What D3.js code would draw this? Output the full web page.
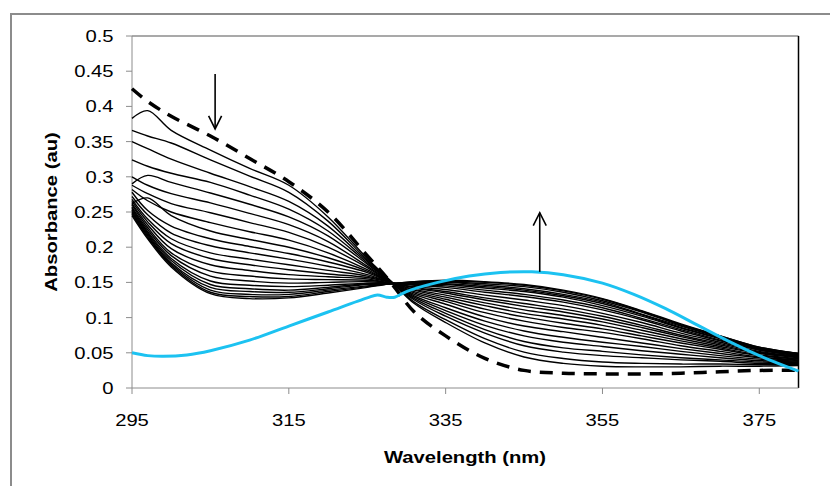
<!DOCTYPE html>
<html>
<head>
<meta charset="utf-8">
<script src="https://cdn.jsdelivr.net/npm/d3@7"></script>
<style>
  body { margin: 0; background: #fff; }
  text { font-family: "Liberation Sans", Arial, sans-serif; fill: #000; }
</style>
</head>
<body>
<svg id="chart"></svg>
<script>
var wavelengths = [295, 297, 300, 305, 310, 315, 320, 325, 328, 331, 335, 340, 345, 350, 355, 360, 365, 370, 375, 380];

// first spectrum (dashed)
var initialSpectrum = [0.425, 0.407, 0.386, 0.358, 0.326, 0.293, 0.250, 0.188, 0.150, 0.108, 0.074, 0.042, 0.025, 0.021, 0.020, 0.020, 0.021, 0.023, 0.025, 0.025];

// intermediate spectra: one row per wavelength, one column per spectrum
var titration = [
  [0.383, 0.366, 0.350, 0.324, 0.290, 0.300, 0.288, 0.282, 0.262, 0.278, 0.272, 0.268, 0.265, 0.262, 0.260, 0.257, 0.255, 0.253, 0.251, 0.249, 0.247, 0.245],
  [0.394, 0.358, 0.340, 0.315, 0.302, 0.288, 0.276, 0.266, 0.270, 0.252, 0.246, 0.240, 0.236, 0.232, 0.228, 0.225, 0.222, 0.220, 0.218, 0.216, 0.214, 0.212],
  [0.366, 0.348, 0.325, 0.305, 0.292, 0.276, 0.262, 0.250, 0.245, 0.230, 0.220, 0.212, 0.205, 0.198, 0.192, 0.188, 0.184, 0.181, 0.178, 0.176, 0.174, 0.172],
  [0.338, 0.324, 0.305, 0.292, 0.277, 0.263, 0.249, 0.235, 0.223, 0.212, 0.202, 0.192, 0.184, 0.175, 0.166, 0.159, 0.152, 0.147, 0.143, 0.139, 0.136, 0.134],
  [0.312, 0.301, 0.286, 0.274, 0.261, 0.248, 0.235, 0.222, 0.211, 0.201, 0.192, 0.183, 0.175, 0.167, 0.159, 0.152, 0.146, 0.141, 0.137, 0.133, 0.130, 0.127],
  [0.288, 0.278, 0.265, 0.254, 0.243, 0.232, 0.221, 0.210, 0.200, 0.191, 0.183, 0.175, 0.168, 0.161, 0.155, 0.149, 0.144, 0.139, 0.136, 0.133, 0.130, 0.128],
  [0.243, 0.237, 0.230, 0.223, 0.216, 0.208, 0.200, 0.192, 0.185, 0.179, 0.173, 0.167, 0.162, 0.158, 0.154, 0.150, 0.146, 0.143, 0.141, 0.139, 0.137, 0.135],
  [0.184, 0.182, 0.180, 0.178, 0.176, 0.173, 0.171, 0.168, 0.166, 0.164, 0.161, 0.159, 0.157, 0.155, 0.153, 0.151, 0.149, 0.148, 0.147, 0.145, 0.144, 0.143],
  [0.152, 0.152, 0.151, 0.151, 0.151, 0.151, 0.150, 0.150, 0.150, 0.150, 0.150, 0.150, 0.150, 0.149, 0.149, 0.149, 0.149, 0.148, 0.148, 0.148, 0.148, 0.148],
  [0.120, 0.122, 0.125, 0.127, 0.129, 0.131, 0.133, 0.135, 0.137, 0.139, 0.140, 0.142, 0.143, 0.144, 0.146, 0.147, 0.148, 0.149, 0.149, 0.150, 0.151, 0.151],
  [0.093, 0.097, 0.102, 0.106, 0.110, 0.114, 0.119, 0.123, 0.126, 0.129, 0.132, 0.135, 0.137, 0.140, 0.143, 0.145, 0.147, 0.148, 0.150, 0.151, 0.152, 0.153],
  [0.064, 0.070, 0.078, 0.083, 0.089, 0.095, 0.101, 0.107, 0.112, 0.117, 0.121, 0.125, 0.128, 0.132, 0.136, 0.139, 0.142, 0.144, 0.146, 0.148, 0.150, 0.151],
  [0.044, 0.051, 0.060, 0.066, 0.074, 0.081, 0.088, 0.095, 0.101, 0.106, 0.111, 0.116, 0.120, 0.125, 0.130, 0.133, 0.137, 0.139, 0.141, 0.144, 0.146, 0.147],
  [0.035, 0.042, 0.051, 0.057, 0.065, 0.072, 0.080, 0.086, 0.092, 0.098, 0.103, 0.108, 0.112, 0.117, 0.122, 0.125, 0.129, 0.131, 0.133, 0.136, 0.138, 0.139],
  [0.031, 0.037, 0.046, 0.052, 0.059, 0.065, 0.072, 0.079, 0.084, 0.089, 0.094, 0.098, 0.102, 0.106, 0.111, 0.114, 0.117, 0.120, 0.122, 0.124, 0.126, 0.127],
  [0.030, 0.035, 0.043, 0.047, 0.053, 0.059, 0.064, 0.070, 0.074, 0.078, 0.082, 0.086, 0.089, 0.093, 0.097, 0.099, 0.102, 0.104, 0.105, 0.108, 0.109, 0.110],
  [0.030, 0.034, 0.040, 0.043, 0.048, 0.052, 0.056, 0.060, 0.064, 0.067, 0.070, 0.073, 0.075, 0.078, 0.081, 0.083, 0.085, 0.086, 0.088, 0.089, 0.090, 0.091],
  [0.031, 0.034, 0.038, 0.040, 0.043, 0.046, 0.049, 0.052, 0.055, 0.057, 0.059, 0.061, 0.063, 0.065, 0.067, 0.068, 0.070, 0.071, 0.072, 0.073, 0.074, 0.074],
  [0.031, 0.033, 0.035, 0.037, 0.039, 0.041, 0.043, 0.044, 0.046, 0.047, 0.049, 0.050, 0.051, 0.052, 0.054, 0.054, 0.055, 0.056, 0.056, 0.057, 0.058, 0.058],
  [0.032, 0.033, 0.035, 0.036, 0.037, 0.038, 0.039, 0.040, 0.041, 0.042, 0.043, 0.044, 0.045, 0.045, 0.046, 0.047, 0.047, 0.048, 0.048, 0.049, 0.049, 0.049]
];

// last spectrum (blue), read at its own points
var finalWavelengths = [295, 297, 299, 302, 305, 310, 315, 320, 325, 326.3, 327.5, 328.5, 330, 334, 338, 342, 346, 350, 355, 359, 363, 367, 371, 375, 380];
var finalSpectrum = [0.050, 0.046, 0.045, 0.047, 0.053, 0.068, 0.088, 0.108, 0.128, 0.132, 0.129, 0.129, 0.137, 0.150, 0.159, 0.164, 0.165, 0.161, 0.149, 0.133, 0.113, 0.090, 0.067, 0.046, 0.024];

var xTicks = [295, 315, 335, 355, 375];
var yTicks = [0, 0.05, 0.1, 0.15, 0.2, 0.25, 0.3, 0.35, 0.4, 0.45, 0.5];

// arrows showing the direction of change: wavelength, start and end absorbance
var arrows = [
  {wl: 305.6, from: 0.446, to: 0.368},
  {wl: 347.0, from: 0.165, to: 0.249}
];

var W = 830, H = 486;
var svg = d3.select("#chart").attr("width", W).attr("height", H);

var x = d3.scaleLinear().domain([295, 380]).range([132, 798.5]);
var y = d3.scaleLinear().domain([0, 0.5]).range([388, 36]);
var STRETCH = 1.19;

// outer chart frame (runs off the right and bottom of the picture)
svg.append("rect")
  .attr("x", 11).attr("y", 14).attr("width", 840).attr("height", 500)
  .attr("fill", "none").attr("stroke", "#8c8c8c").attr("stroke-width", 2);

// plot area border
svg.append("line").attr("x1", x(295)).attr("x2", x(380)).attr("y1", y(0.5)).attr("y2", y(0.5))
  .attr("stroke", "#8c8c8c").attr("stroke-width", 1.5);
svg.append("line").attr("x1", x(380)).attr("x2", x(380)).attr("y1", y(0.5)).attr("y2", y(0))
  .attr("stroke", "#000").attr("stroke-width", 1.5);

// axes
var axes = svg.append("g").attr("stroke", "#8c8c8c").attr("stroke-width", 1);
axes.append("line").attr("x1", x(295)).attr("x2", x(295)).attr("y1", y(0.5)).attr("y2", y(0));
axes.append("line").attr("x1", x(295)).attr("x2", x(380)).attr("y1", y(0)).attr("y2", y(0));
axes.selectAll(".yt").data(yTicks).enter().append("line")
  .attr("x1", x(295) - 6).attr("x2", x(295))
  .attr("y1", function (d) { return y(d); }).attr("y2", function (d) { return y(d); });
axes.selectAll(".xt").data(xTicks).enter().append("line")
  .attr("x1", function (d) { return x(d); }).attr("x2", function (d) { return x(d); })
  .attr("y1", y(0)).attr("y2", y(0) + 6);

function label(px, py, txt, anchor, size, bold, rot) {
  var g = svg.append("g").attr("transform", "translate(" + px + "," + py + ")" + (rot ? " rotate(" + rot + ")" : ""));
  g.append("text")
    .attr("transform", "scale(" + STRETCH + ",1)")
    .attr("text-anchor", anchor)
    .style("font-size", size + "px")
    .style("font-weight", bold ? "bold" : "normal")
    .text(txt);
}

yTicks.forEach(function (d) { label(113.5, y(d) + 6, String(+d.toFixed(2)), "end", 17); });
xTicks.forEach(function (d) { label(x(d), 426, String(d), "middle", 17); });
label(465, 463, "Wavelength (nm)", "middle", 17, true);
label(57, 212, "Absorbance (au)", "middle", 17, true, -90);

// spectra
var line = d3.line()
  .x(function (d) { return x(d[0]); })
  .y(function (d) { return y(d[1]); })
  .curve(d3.curveCatmullRom.alpha(0.5));

var series = d3.transpose(titration).map(function (col) {
  return col.map(function (v, i) { return [wavelengths[i], v]; });
});

svg.append("g").selectAll("path").data(series).enter().append("path")
  .attr("d", line)
  .attr("fill", "none").attr("stroke", "#000").attr("stroke-width", 1.4);

svg.append("path")
  .attr("d", line(initialSpectrum.map(function (v, i) { return [wavelengths[i], v]; })))
  .attr("fill", "none").attr("stroke", "#000").attr("stroke-width", 3.5)
  .attr("stroke-dasharray", "13,9");

svg.append("path")
  .attr("d", line(finalSpectrum.map(function (v, i) { return [finalWavelengths[i], v]; })))
  .attr("fill", "none").attr("stroke", "#1cc2f1").attr("stroke-width", 3);

// arrows
arrows.forEach(function (a) {
  var ax = x(a.wl), y0 = y(a.from), y1 = y(a.to);
  var dir = y1 > y0 ? -1 : 1;
  svg.append("line").attr("x1", ax).attr("x2", ax).attr("y1", y0).attr("y2", y1)
    .attr("stroke", "#000").attr("stroke-width", 1.6);
  svg.append("path")
    .attr("d", "M" + (ax - 6.5) + "," + (y1 + dir * 13) + "L" + ax + "," + y1 + "L" + (ax + 6.5) + "," + (y1 + dir * 13))
    .attr("fill", "none").attr("stroke", "#000").attr("stroke-width", 1.6);
});
</script>
</body>
</html>
